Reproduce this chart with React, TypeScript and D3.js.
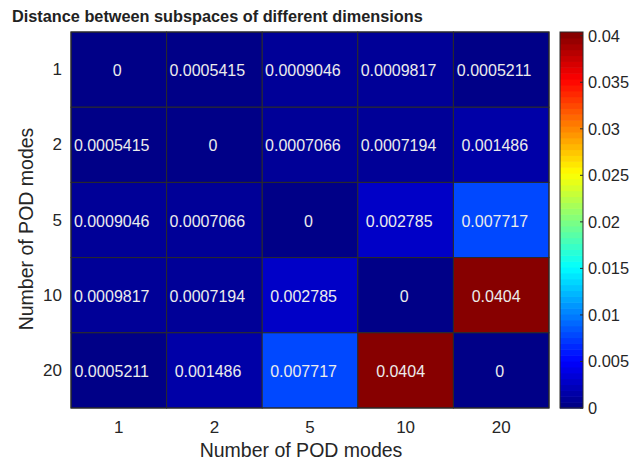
import React from "react";
import * as d3 from "d3";

const modes = ["1", "2", "5", "10", "20"];
const values: number[][] = [
  [0, 0.0005415, 0.0009046, 0.0009817, 0.0005211],
  [0.0005415, 0, 0.0007066, 0.0007194, 0.001486],
  [0.0009046, 0.0007066, 0, 0.002785, 0.007717],
  [0.0009817, 0.0007194, 0.002785, 0, 0.0404],
  [0.0005211, 0.001486, 0.007717, 0.0404, 0],
];
const cbTicks = [0, 0.005, 0.01, 0.015, 0.02, 0.025, 0.03, 0.035, 0.04];
const cellLabels = values.map((r) => r.map((v) => (v === 0 ? "0" : String(v))));

function jet(t: number): string {
  // MATLAB jet with 64 levels
  const n = 64;
  const idx = Math.min(n - 1, Math.max(0, Math.floor(t * n)));
  const x = (idx + 0.5) / n;
  const f = (v: number) => Math.max(0, Math.min(1, v));
  const r = f(Math.min(4 * x - 1.5, -4 * x + 4.5));
  const g = f(Math.min(4 * x - 0.5, -4 * x + 3.5));
  const b = f(Math.min(4 * x + 0.5, -4 * x + 2.5));
  return d3.rgb(r * 255, g * 255, b * 255).toString();
}

export default function App() {
  const W = 635, H = 467;
  const left = 71, right = 549, top = 32, bottom = 408;
  const vmax = d3.max(values.flat()) as number;
  const x = d3.scaleBand().domain(modes).range([left, right]);
  const y = d3.scaleBand().domain(modes).range([top, bottom]);
  const cbX = 560, cbW = 23;
  const cbY = d3.scaleLinear().domain([0, vmax]).range([bottom, top]);
  const font = "Liberation Sans, Arial, Helvetica, sans-serif";
  const levels = d3.range(64);
  return (
    <svg width={W} height={H} style={{ position: "absolute", left: 0, top: 0, fontFamily: font }}>
      <rect x={0} y={0} width={W} height={H} fill="#fff" />
      <text x={12} y={22} fontSize={16.3} fontWeight="bold" fill="#222">
        Distance between subspaces of different dimensions
      </text>
      {values.map((row, i) =>
        row.map((v, j) => (
          <g key={`${i}-${j}`}>
            <rect
              x={x(modes[j])}
              y={y(modes[i])}
              width={x.bandwidth()}
              height={y.bandwidth()}
              fill={jet(v / vmax)}
              stroke="#2a2a2a"
              strokeWidth={1}
            />
            <text
              x={(x(modes[j]) as number) + x.bandwidth() / 2 - (0.7 * cellLabels[i][j].length + 0.8)}
              y={(y(modes[i]) as number) + y.bandwidth() / 2 + 1}
              textAnchor="middle"
              dominantBaseline="central"
              fontSize={16}
              fill="#ececec"
            >
              {cellLabels[i][j]}
            </text>
          </g>
        ))
      )}
      <rect x={left} y={top} width={right - left} height={bottom - top} fill="none" stroke="#2a2a2a" strokeWidth={1} />
      {modes.map((m) => (
        <text key={"xt" + m} x={(x(m) as number) + x.bandwidth() / 2} y={433} textAnchor="middle" fontSize={17} fill="#262626">
          {m}
        </text>
      ))}
      {modes.map((m) => (
        <text key={"yt" + m} x={62} y={(y(m) as number) + y.bandwidth() / 2} textAnchor="end" dominantBaseline="central" fontSize={17} fill="#262626">
          {m}
        </text>
      ))}
      <text x={301} y={457} textAnchor="middle" fontSize={19.5} fill="#262626">
        Number of POD modes
      </text>
      <text transform={`translate(33,229) rotate(-90)`} textAnchor="middle" fontSize={19.5} fill="#262626">
        Number of POD modes
      </text>
      {levels.map((k) => {
        const y0 = cbY((k / 64) * vmax);
        const y1 = cbY(((k + 1) / 64) * vmax);
        return <rect key={"cb" + k} x={cbX} y={y1} width={cbW} height={y0 - y1 + 0.6} fill={jet((k + 0.5) / 64)} />;
      })}
      <rect x={cbX} y={top} width={cbW} height={bottom - top} fill="none" stroke="#2a2a2a" strokeWidth={1} />
      {cbTicks.map((t) => (
        <g key={"cbt" + t}>
          <line x1={cbX + cbW - 3} x2={cbX + cbW} y1={cbY(t)} y2={cbY(t)} stroke="#2a2a2a" />
          <text x={cbX + cbW + 5} y={cbY(t)} dominantBaseline="central" fontSize={16.4} fill="#262626">
            {String(t)}
          </text>
        </g>
      ))}
    </svg>
  );
}
